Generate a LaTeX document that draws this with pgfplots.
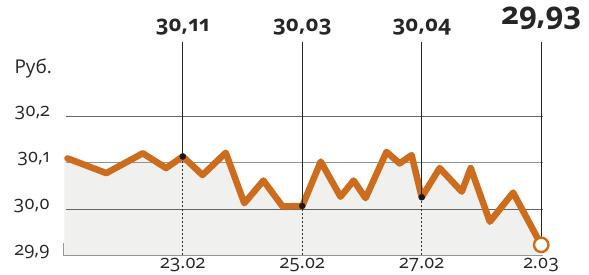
\documentclass[border=0pt]{standalone}
\usepackage{fontspec}
\setmainfont{Open Sans}[Numbers=OldStyle]
\usepackage{pgfplots}
\usepackage{pgfplotstable}
\pgfplotsset{compat=1.18}
\definecolor{lineor}{RGB}{204,108,28}
\definecolor{fillg}{RGB}{240,240,238}
\definecolor{gridc}{RGB}{100,100,100}
\definecolor{axc}{RGB}{150,150,150}

\pgfplotstableread{
x y
0.07 30.110
0.72 30.078
1.33 30.121
1.72 30.089
2.00 30.114
2.33 30.074
2.72 30.122
3.03 30.013
3.35 30.062
3.67 30.006
4.00 30.007
4.31 30.103
4.64 30.027
4.86 30.062
5.06 30.024
5.41 30.124
5.63 30.099
5.83 30.117
6.00 30.026
6.30 30.089
6.67 30.038
6.82 30.089
7.14 29.973
7.53 30.036
8.00 29.923
}\rub

\pgfplotstableread{
x y
0.02 29.900
0.02 30.110
0.07 30.110
0.72 30.078
1.33 30.121
1.72 30.089
2.00 30.114
2.33 30.074
2.72 30.122
3.03 30.013
3.35 30.062
3.67 30.006
4.00 30.007
4.31 30.103
4.64 30.027
4.86 30.062
5.06 30.024
5.41 30.124
5.63 30.099
5.83 30.117
6.00 30.026
6.30 30.089
6.67 30.038
6.82 30.089
7.14 29.973
7.53 30.036
8.00 29.923
8.00 29.900
}\rubfill

\begin{document}
\begin{tikzpicture}[x=1pt,y=1pt]
\path[use as bounding box] (0,0) rectangle (589,275);
\begin{axis}[
  at={(63.3pt,19.5pt)}, anchor=south west,
  scale only axis, width=479.7pt, height=138.8pt,
  xmin=0, xmax=8.03, ymin=29.9, ymax=30.2,
  clip=false,
  axis line style={draw=none},
  major tick length=0pt,
  xtick={2,4,6,8},
  xticklabels={23.02,25.02,27.02,2.03},
  ytick={29.9,30.0,30.1,30.2},
  yticklabels={{29,9},{30,0},{30,1},{30,2}},
  /pgf/number format/assume math mode=true,
  ticklabel style={font=\fontsize{18.5}{18.5}\selectfont, text=black!85},
  yticklabel style={anchor=base east, xshift=-10pt, yshift=0pt},
  xticklabel style={anchor=base, yshift=-13.5pt},
]
\addplot[fill=fillg, draw=none] table[x=x,y=y] {\rubfill} -- cycle;
\draw[gridc, line width=0.9pt] (axis cs:0.05,30.0) -- (axis cs:8.03,30.0);
\draw[gridc!70, line width=1pt] (axis cs:0.05,30.1) -- (axis cs:8.03,30.1);
\draw[gridc, line width=0.9pt] (axis cs:0.05,30.2) -- (axis cs:8.03,30.2);
\draw[axc, line width=1.2pt] (axis cs:0,29.9) -- (axis cs:8.03,29.9);
\draw[axc, line width=1.2pt] (axis cs:0,29.9) -- (axis cs:0,29.928);
% dashed droplines
\addplot[black!80, line width=0.8pt, dash pattern=on 2pt off 2pt] coordinates {(2,29.9) (2,30.114)};
\addplot[black!80, line width=0.8pt, dash pattern=on 2pt off 2pt] coordinates {(4,29.9) (4,30.007)};
\addplot[black!80, line width=0.8pt, dash pattern=on 2pt off 2pt] coordinates {(6,29.9) (6,30.026)};
% main line
\addplot[lineor, line width=6.5pt, line join=round, line cap=round] table[x=x,y=y] {\rub};
% solid leader lines
\addplot[black!85, line width=1.2pt] coordinates {(2,30.114) (2,30.361)};
\addplot[black!85, line width=1.2pt] coordinates {(4,30.007) (4,30.361)};
\addplot[black!85, line width=1.2pt] coordinates {(6,30.026) (6,30.361)};
\addplot[black!85, line width=1.2pt] coordinates {(8,29.923) (8,30.361)};
% markers
\addplot[only marks, mark=*, mark size=3pt, black!90] coordinates {(2,30.114) (4,30.007) (6,30.026)};
\addplot[only marks, mark=*, mark size=7.2pt, mark options={fill=white, draw=lineor, line width=2.4pt}] coordinates {(8,29.923)};
% value labels
\node[anchor=base, font=\bfseries\fontsize{22}{22}\selectfont, text=black!85] at (axis cs:2,30.384) {30,11};
\node[anchor=base, font=\bfseries\fontsize{22}{22}\selectfont, text=black!85] at (axis cs:4,30.384) {30,03};
\node[anchor=base, font=\bfseries\fontsize{22}{22}\selectfont, text=black!85] at (axis cs:6,30.384) {30,04};
\node[anchor=base, font=\bfseries\fontsize{31}{31}\selectfont, text=black!85] at (axis cs:8,30.400) {29,93};
\end{axis}
\node[anchor=base west, font=\fontsize{19}{19}\selectfont, text=black!85] at (11,201) {Руб.};
\end{tikzpicture}
\end{document}
